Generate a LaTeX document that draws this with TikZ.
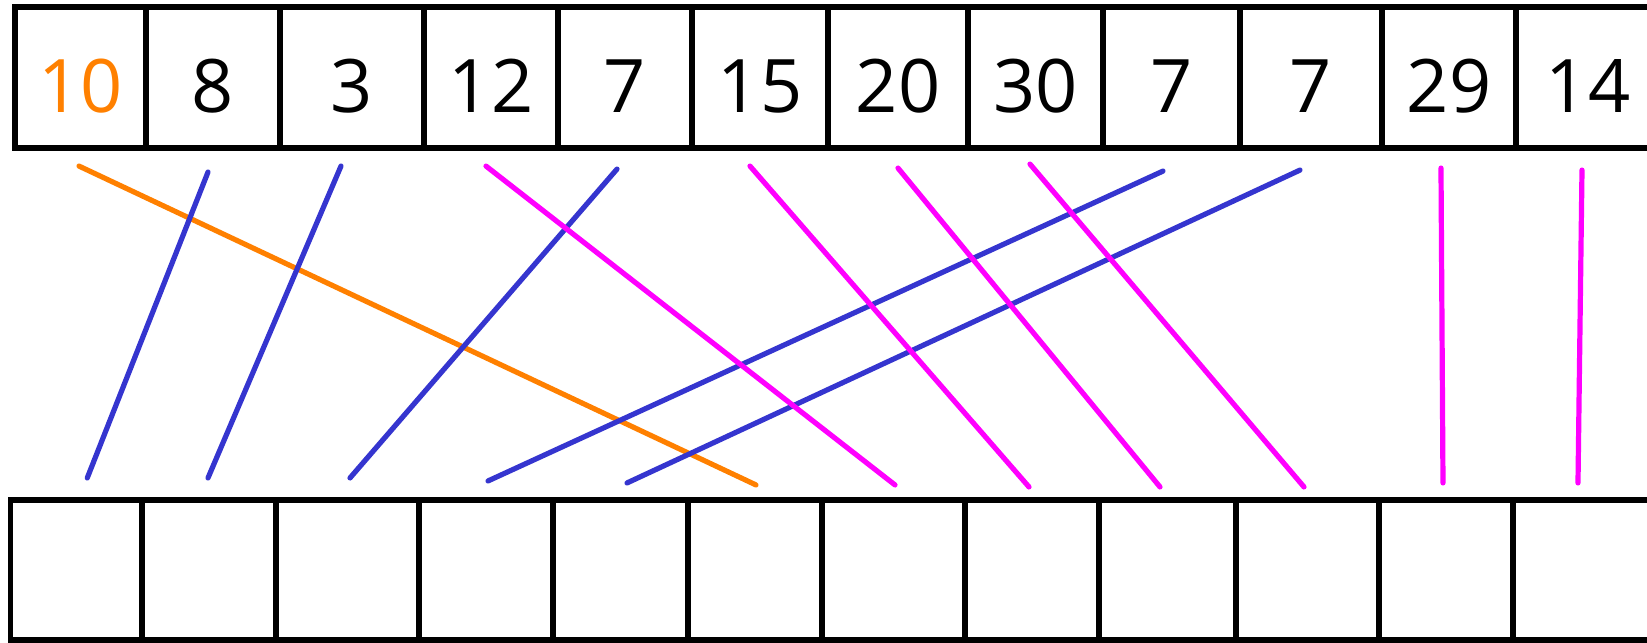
\documentclass[tikz,border=0pt]{standalone}
\usepackage{fontspec}
\setmainfont{Open Sans}
\usetikzlibrary{calc}
\definecolor{pivotorange}{HTML}{FF8000}
\definecolor{smallblue}{HTML}{3535CF}
\definecolor{bigmagenta}{HTML}{FF00FF}

\begin{document}
\begin{tikzpicture}[
    x=0.01cm, y=-0.01cm,
    cell/.style={rectangle, draw=black, line width=0.058cm, inner sep=0pt, outer sep=0pt, font=\fontsize{21}{21}\selectfont, text height=19.6pt, text depth=0pt},
    pivotln/.style={line width=0.052cm, line cap=round, color=pivotorange},
    smallln/.style={line width=0.052cm, line cap=round, color=smallblue},
    bigln/.style={line width=0.052cm, line cap=round, color=bigmagenta},
  ]
    \useasboundingbox (0,0) rectangle (1647,643);

    % Input row
    \foreach \l/\r/\v/\c [count=\i from 0] in {15/146/10/pivotorange, 146/280/8/black, 280/424/3/black, 424/558/12/black, 558/692/7/black, 692/828/15/black, 828/968/20/black, 968/1103/30/black, 1103/1240/7/black, 1240/1382/7/black, 1382/1516/29/black, 1516/1660/14/black}
      \node[cell, text=\c, minimum width={(\r-\l)*0.01cm}, minimum height=1.407cm] (t\i) at ({(\l+\r)/2},77.7) {\v};

    % Output row
    \foreach \l/\r [count=\i from 0] in {10.5/142, 142/276, 276/419, 419/553, 553/688, 688/822, 822/965, 965/1099, 1099/1236, 1236/1379, 1379/1513, 1513/1660}
      \node[cell, minimum width={(\r-\l)*0.01cm}, minimum height=1.4cm] (b\i) at ({(\l+\r)/2},570) {};

    % Pivot
    \draw[pivotln] ($(t0.south)+(-1.5,18)$) -- ($(b5.north)+(1,-15)$);

    % Smaller than pivot
    \draw[smallln] ($(t1.south)+(-5,24)$) -- ($(b0.north)+(11,-22)$);
    \draw[smallln] ($(t2.south)+(-11,18)$) -- ($(b1.north)+(-1,-22)$);
    \draw[smallln] ($(t4.south)+(-8,21)$) -- ($(b2.north)+(2.5,-22)$);
    \draw[smallln] ($(t8.south)+(-8.5,23)$) -- ($(b3.north)+(2,-19)$);
    \draw[smallln] ($(t9.south)+(-11,22)$) -- ($(b4.north)+(6.5,-17)$);

    % Larger than pivot
    \draw[bigln] ($(t3.south)+(-5,18)$) -- ($(b6.north)+(1.5,-15)$);
    \draw[bigln] ($(t5.south)+(-10,18)$) -- ($(b7.north)+(-3,-13)$);
    \draw[bigln] ($(t6.south)+(0,20)$) -- ($(b8.north)+(-7.5,-13)$);
    \draw[bigln] ($(t7.south)+(-5.5,16)$) -- ($(b9.north)+(-3.5,-13)$);
    \draw[bigln] ($(t10.south)+(-8,20)$) -- ($(b10.north)+(-3,-17)$);
    \draw[bigln] ($(t11.south)+(-6,22)$) -- ($(b11.north)+(-8.5,-17)$);

\end{tikzpicture}
\end{document}
